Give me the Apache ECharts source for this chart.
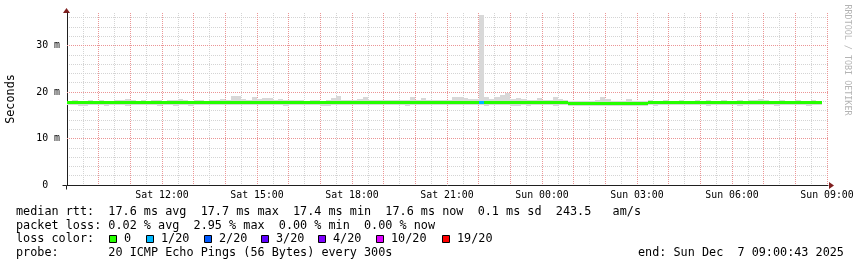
<!DOCTYPE html>
<html><head><meta charset="utf-8">
<script src="https://cdn.jsdelivr.net/npm/echarts@6/dist/echarts.min.js"></script>
<style>html,body{margin:0;padding:0;background:#fff}#c{width:857px;height:267px}</style>
</head><body><div id="c"></div>
<script>
// ---- data (10-minute bins starting Sat 09:00, hours since Sat 00:00) ----
const START_H = 9;
const STEP_H = 1 / 6;
const medianRtt = [
17.6,17.6,17.6,17.6,17.6,17.6,17.6,17.6,17.6,17.6,
17.6,17.6,17.6,17.6,17.6,17.6,17.6,17.6,17.6,17.6,
17.6,17.6,17.6,17.6,17.6,17.6,17.6,17.6,17.6,17.6,
17.6,17.6,17.6,17.6,17.6,17.6,17.6,17.6,17.6,17.6,
17.6,17.6,17.6,17.6,17.6,17.6,17.6,17.6,17.6,17.6,
17.6,17.6,17.6,17.6,17.6,17.6,17.6,17.6,17.6,17.6,
17.6,17.6,17.6,17.6,17.6,17.6,17.6,17.6,17.6,17.6,
17.6,17.6,17.6,17.6,17.6,17.6,17.6,17.6,17.6,17.6,
17.6,17.6,17.6,17.6,17.6,17.6,17.6,17.6,17.6,17.6,
17.6,17.6,17.6,17.6,17.6,17.35,17.35,17.35,17.35,17.35,
17.35,17.35,17.35,17.35,17.35,17.35,17.35,17.35,17.35,17.35,
17.6,17.6,17.6,17.6,17.6,17.6,17.6,17.6,17.6,17.6,
17.6,17.6,17.6,17.6,17.6,17.6,17.6,17.6,17.6,17.6,
17.6,17.6,17.6,17.6,17.6,17.6,17.6,17.6,17.6,17.6,
17.6,17.6,17.6
];
const smokeMax = [
18.1,18.2,18.1,18.1,18.2,18.1,18.2,18.1,18.1,18.2,
18.2,18.4,18.2,18.1,18.2,18.1,18.2,18.2,18.1,18.2,
18.3,18.5,18.2,18.1,18.2,18.2,18.1,18.2,18.3,18.5,
18.3,19.2,19.2,18.6,18.3,18.9,18.6,18.7,18.7,18.3,
18.4,18.2,18.3,18.3,18.2,18.1,18.2,18.2,18.1,18.3,
18.8,19.2,18.3,18.2,18.3,18.5,18.9,18.3,18.2,18.2,
18.2,18.3,18.2,18.3,18.3,18.9,18.3,18.8,18.3,18.2,
18.2,18.3,18.3,18.9,18.9,18.7,18.5,18.4,36.5,19.0,
18.6,19.0,19.3,19.7,18.6,18.7,18.5,18.3,18.3,18.8,
18.3,18.3,18.9,18.4,18.2,18.0,18.0,18.1,18.0,18.1,
18.2,19.0,18.6,18.1,18.0,18.1,18.4,18.0,18.0,18.1,
18.2,18.1,18.1,18.2,18.1,18.1,18.2,18.1,18.1,18.2,
18.1,18.2,18.1,18.1,18.2,18.1,18.1,18.2,18.1,18.2,
18.3,18.6,18.2,18.1,18.1,18.2,18.1,18.1,18.2,18.1,
18.1,18.2,18.1
];
const smokeMin = [
17.3,17.3,17.1,17.1,17.3,17.3,17.3,17.1,17.3,17.3,
17.3,17.1,17.3,17.3,17.3,17.3,17.3,17.1,17.3,17.3,
17.1,17.3,17.3,17.1,17.3,17.3,17.3,17.3,17.3,17.3,
17.3,17.3,17.3,17.3,17.3,17.3,17.3,17.3,17.3,17.3,
17.3,17.1,17.3,17.3,17.3,17.3,17.3,17.3,17.1,17.1,
17.3,17.3,17.3,17.3,17.3,17.3,17.3,17.3,17.3,17.3,
17.3,17.3,17.3,17.3,17.1,17.3,17.3,17.3,17.3,17.3,
17.3,17.3,17.3,17.3,17.3,17.3,17.3,17.3,17.3,17.1,
17.3,17.3,17.3,17.3,17.1,17.1,17.3,17.1,17.3,17.3,
17.3,17.3,17.1,17.3,17.3,17.1,17.1,17.1,17.1,17.1,
16.9,17.1,17.1,17.1,16.9,17.1,17.1,16.9,17.1,17.1,
17.3,17.1,17.3,17.3,17.3,17.3,17.3,17.3,17.3,17.3,
17.3,17.1,17.3,17.3,17.3,17.3,17.3,17.1,17.3,17.3,
17.3,17.3,17.3,17.3,17.1,17.3,17.3,17.3,17.3,17.3,
17.1,17.3,17.3
];
const lossCount = [
0,0,0,0,0,0,0,0,0,0, 0,0,0,0,0,0,0,0,0,0,
0,0,0,0,0,0,0,0,0,0, 0,0,0,0,0,0,0,0,0,0,
0,0,0,0,0,0,0,0,0,0, 0,0,0,0,0,0,0,0,0,0,
0,0,0,0,0,0,0,0,0,0, 0,0,0,0,0,0,0,0,1,0,
0,0,0,0,0,0,0,0,0,0, 0,0,0,0,0,0,0,0,0,0,
0,0,0,0,0,0,0,0,0,0, 0,0,0,0,0,0,0,0,0,0,
0,0,0,0,0,0,0,0,0,0, 0,0,0,0,0,0,0,0,0,0,
0,0,0
];
const xLabelHours = [12, 15, 18, 21, 24, 27, 30, 33];
const xLabelTexts = ['Sat 12:00','Sat 15:00','Sat 18:00','Sat 21:00','Sun 00:00','Sun 03:00','Sun 06:00','Sun 09:00'];
const yLabelValues = [0, 10, 20, 30];
const yLabelTexts = ['0  ', '10 m', '20 m', '30 m'];
const lossLevels = [0, 1, 2, 3, 4, 10, 19];
const lossLabels = ['0', '1/20', '2/20', '3/20', '4/20', '10/20', '19/20'];
const lossColors = ['#26ff00', '#00b8ff', '#0059ff', '#5e00ff', '#7e00ff', '#dd00ff', '#ff0000'];
const statLine1 = 'median rtt:  17.6 ms avg  17.7 ms max  17.4 ms min  17.6 ms now  0.1 ms sd  243.5   am/s';
const statLine2 = 'packet loss: 0.02 % avg  2.95 % max  0.00 % min  0.00 % now';
const statLine3 = 'loss color:';
const statLine4 = 'probe:       20 ICMP Echo Pings (56 Bytes) every 300s';
const endText = 'end: Sun Dec  7 09:00:43 2025';
const yAxisTitle = 'Seconds';
const watermark = 'RRDTOOL / TOBI OETIKER';

// ---- layout ----
const X_MIN = 9, X_MAX = 33.0316, Y_MIN = 0, Y_MAX = 37;
const MONO = '"DejaVu Sans Mono", monospace';
const lossSwatchX = [109, 146, 204, 261, 318, 376, 442];

function lossColor(n) {
  let c = lossColors[0];
  for (let i = 0; i < lossLevels.length; i++) if (n >= lossLevels[i]) c = lossColors[i];
  return c;
}
const smokeData = smokeMax.map((v, i) => [START_H + i * STEP_H, smokeMin[i], v]);
const medianData = medianRtt.map((v, i) => [START_H + i * STEP_H, v, lossCount[i]]);

const chart = echarts.init(document.getElementById('c'), null, {renderer: 'canvas'});
const gridLineMinor = {color: '#d4d4d4', type: [1, 1], width: 1};
const gridLineMajor = {color: '#eb9595', type: [1, 1], width: 1};

const option = {
  animation: false,
  backgroundColor: '#ffffff',
  grid: {left: 67, right: 857 - 828, top: 13, bottom: 267 - 185, containLabel: false, outerBoundsMode: 'none'},
  xAxis: [
    {type: 'value', position: 'bottom', min: X_MIN, max: X_MAX, interval: 0.5, z: 0,
     axisLine: {show: true, lineStyle: {color: '#1f1f1f', width: 1}},
     axisTick: {show: false}, axisLabel: {show: false},
     splitLine: {show: true, showMinLine: false, showMaxLine: false, lineStyle: gridLineMinor}},
    {type: 'value', position: 'bottom', min: X_MIN, max: X_MAX, interval: 1, z: 1,
     axisLine: {show: false}, axisTick: {show: false},
     axisLabel: {show: true, margin: 5, color: '#000', fontFamily: MONO, fontSize: 9.9,
       showMinLabel: false, showMaxLabel: false,
       formatter: v => { const k = xLabelHours.indexOf(Math.round(v * 1000) / 1000); return k >= 0 ? xLabelTexts[k] : ''; }},
     splitLine: {show: true, showMinLine: false, showMaxLine: false, lineStyle: gridLineMajor}}
  ],
  yAxis: [
    {type: 'value', position: 'left', min: Y_MIN, max: Y_MAX, interval: 2, z: 0,
     axisLine: {show: true, lineStyle: {color: '#1f1f1f', width: 1}},
     axisTick: {show: false}, axisLabel: {show: false},
     splitLine: {show: true, showMinLine: false, showMaxLine: false, lineStyle: gridLineMinor}},
    {type: 'value', position: 'left', min: Y_MIN, max: Y_MAX, interval: 10, z: 1,
     axisLine: {show: false}, axisTick: {show: false},
     axisLabel: {show: true, margin: 7, color: '#000', fontFamily: MONO, fontSize: 9.9, showMaxLabel: false,
       formatter: v => { const k = yLabelValues.indexOf(v); return k >= 0 ? yLabelTexts[k] : ''; }},
     splitLine: {show: true, showMinLine: false, showMaxLine: false, lineStyle: gridLineMajor}}
  ],
  series: [
    {type: 'custom', name: 'smoke', xAxisIndex: 0, yAxisIndex: 0, data: smokeData, encode: {x: 0, y: [1, 2]}, z: 2,
     renderItem: (params, api) => {
       const t = api.value(0), lo = api.value(1), hi = api.value(2);
       const p0 = api.coord([t, hi]);
       const p1 = api.coord([t + STEP_H, lo]);
       const x0 = Math.round(p0[0]), x1 = Math.round(p1[0]);
       const y0 = Math.round(p0[1]), y1 = Math.round(p1[1]);
       return {type: 'rect', shape: {x: x0, y: y0, width: x1 - x0, height: y1 - y0}, style: {fill: '#d8d8d8'}};
     }},
    {type: 'custom', name: 'median', xAxisIndex: 0, yAxisIndex: 0, data: medianData, encode: {x: 0, y: 1}, z: 3,
     renderItem: (params, api) => {
       const t = api.value(0), m = api.value(1), n = api.value(2);
       const p0 = api.coord([t, m]);
       const p1 = api.coord([t + STEP_H, m]);
       const x0 = Math.round(p0[0]), x1 = Math.round(p1[0]);
       const y = Math.floor(p0[1] - 1.5);
       return {type: 'rect', shape: {x: x0, y: y, width: x1 - x0, height: 3}, style: {fill: lossColor(n)}};
     }}
  ]
};
chart.setOption(option);

// decorations computed from axis scales
const px0 = chart.convertToPixel({xAxisIndex: 0}, X_MIN);
const pxEnd = chart.convertToPixel({xAxisIndex: 0}, X_MAX);
const py0 = chart.convertToPixel({yAxisIndex: 0}, Y_MIN);
const pyTop = chart.convertToPixel({yAxisIndex: 0}, Y_MAX);
const ax = Math.round(px0) + 0.5 - 1, ay = Math.round(py0) + 0.5;
const textStyle = (txt, extra) => Object.assign({text: txt, fill: '#000', fontFamily: MONO, fontSize: 11.8, verticalAlign: 'middle', align: 'left'}, extra || {});
const graphics = [
  {type: 'line', shape: {x1: ax - 4, y1: ay, x2: ax, y2: ay}, style: {stroke: '#1f1f1f', lineWidth: 1}, silent: true},
  {type: 'line', shape: {x1: ax, y1: ay, x2: ax, y2: ay + 4}, style: {stroke: '#1f1f1f', lineWidth: 1}, silent: true},
  {type: 'polygon', shape: {points: [[pxEnd + 1, ay - 3.5], [pxEnd + 1, ay + 3.5], [pxEnd + 6, ay]]}, style: {fill: '#7f1f1f'}, silent: true},
  {type: 'polygon', shape: {points: [[ax - 3.5, pyTop], [ax + 3.5, pyTop], [ax, pyTop - 5]]}, style: {fill: '#7f1f1f'}, silent: true},
  {type: 'text', x: 10.5, y: 99, rotation: Math.PI / 2, style: textStyle(yAxisTitle, {align: 'center'})},
  {type: 'text', x: 847, y: 60, rotation: -Math.PI / 2, style: textStyle(watermark, {align: 'center', fontSize: 8.4, fill: '#b4b4b4'})},
  {type: 'text', x: 16, y: 212, style: textStyle(statLine1)},
  {type: 'text', x: 16, y: 225.5, style: textStyle(statLine2)},
  {type: 'text', x: 16, y: 239, style: textStyle(statLine3)},
  {type: 'text', x: 16, y: 252.5, style: textStyle(statLine4)},
  {type: 'text', x: 638, y: 252.5, style: textStyle(endText)}
];
lossLabels.forEach((lab, i) => {
  graphics.push({type: 'rect', shape: {x: lossSwatchX[i] + 0.5, y: 235.5, width: 7, height: 7}, style: {fill: lossColors[i], stroke: '#000', lineWidth: 1}, silent: true});
  graphics.push({type: 'text', x: lossSwatchX[i] + 15, y: 239, style: textStyle(lab)});
});
chart.setOption({graphic: graphics});
</script>
</body></html>
